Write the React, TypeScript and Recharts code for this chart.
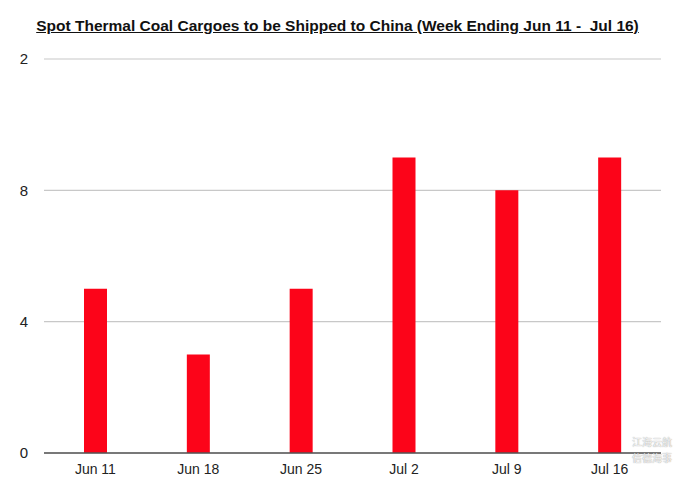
import { BarChart, Bar, XAxis, YAxis, CartesianGrid } from 'recharts';

const weeks = ['Jun 11', 'Jun 18', 'Jun 25', 'Jul 2', 'Jul 9', 'Jul 16'];
const cargoes = [5, 3, 5, 9, 8, 9];
const yTicks = [0, 4, 8, 12];
const yTickLabels = ['0', '4', '8', '2'];

const data = weeks.map((week, i) => ({ week, cargoes: cargoes[i] }));

const fontFamily = '"Liberation Sans", Arial, Helvetica, sans-serif';

export default function App() {
  return (
    <div
      style={{
        position: 'absolute',
        top: 0,
        left: 0,
        width: 675,
        height: 480,
        background: '#fff',
        fontFamily,
      }}
    >
      <div
        style={{
          position: 'absolute',
          top: 17,
          left: 0,
          width: 675,
          textAlign: 'center',
          fontSize: 15.5,
          fontWeight: 'bold',
          textDecoration: 'underline',
          color: '#111',
        }}
      >
        Spot Thermal Coal Cargoes to be Shipped to China (Week Ending Jun 11 -&nbsp; Jul 16)
      </div>
      <BarChart
        width={675}
        height={480}
        data={data}
        margin={{ top: 59, right: 14, bottom: 0, left: 0 }}
        barCategoryGap={0}
      >
        <CartesianGrid vertical={false} stroke="#c8c8c8" strokeWidth={1.2} />
        <XAxis
          dataKey="week"
          axisLine={{ stroke: '#555', strokeWidth: 1.5 }}
          tickLine={false}
          tick={{ fontSize: 14, fill: '#222', fontFamily }}
          tickMargin={5}
          height={27}
        />
        <YAxis
          domain={[0, 12]}
          ticks={yTicks}
          width={44}
          axisLine={false}
          tickLine={false}
          tickSize={0}
          tickMargin={16}
          tick={{ fontSize: 15, fill: '#222', fontFamily }}
          tickFormatter={(v: number) => yTickLabels[yTicks.indexOf(v)]}
        />
        <Bar dataKey="cargoes" fill="#fc0419" barSize={23} isAnimationActive={false} />
      </BarChart>
      <div
        style={{
          position: 'absolute',
          left: 632,
          top: 434,
          fontSize: 10,
          lineHeight: '16px',
          color: 'rgba(255,255,255,0.9)',
          textShadow: '0 0 1px #777',
          fontFamily: '"Noto Sans CJK SC", sans-serif',
        }}
      >
        <div>江海云航</div>
        <div>信德海事</div>
      </div>
    </div>
  );
}
